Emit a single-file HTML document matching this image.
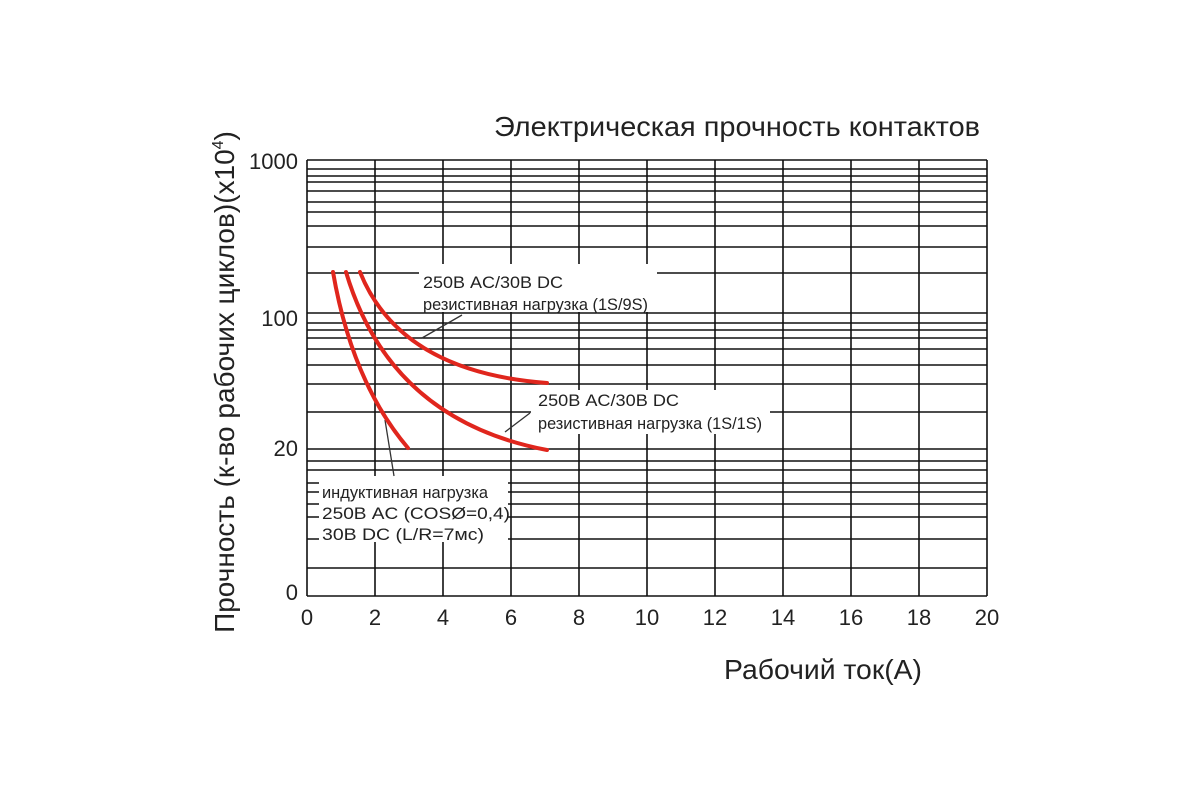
<!DOCTYPE html>
<html><head><meta charset="utf-8"><style>
body{margin:0;background:#fff}
svg text{font-family:"Liberation Sans","DejaVu Sans",sans-serif;fill:#222}
</style></head><body>
<svg width="1200" height="800" viewBox="0 0 1200 800" xmlns="http://www.w3.org/2000/svg">
<rect width="1200" height="800" fill="#fff"/>
<g stroke="#111" stroke-width="1.6">
<line x1="307" y1="160" x2="987" y2="160"/>
<line x1="307" y1="169" x2="987" y2="169"/>
<line x1="307" y1="176" x2="987" y2="176"/>
<line x1="307" y1="182" x2="987" y2="182"/>
<line x1="307" y1="191" x2="987" y2="191"/>
<line x1="307" y1="202" x2="987" y2="202"/>
<line x1="307" y1="212" x2="987" y2="212"/>
<line x1="307" y1="226" x2="987" y2="226"/>
<line x1="307" y1="247" x2="987" y2="247"/>
<line x1="307" y1="273" x2="987" y2="273"/>
<line x1="307" y1="313" x2="987" y2="313"/>
<line x1="307" y1="323" x2="987" y2="323"/>
<line x1="307" y1="330" x2="987" y2="330"/>
<line x1="307" y1="338" x2="987" y2="338"/>
<line x1="307" y1="349" x2="987" y2="349"/>
<line x1="307" y1="365" x2="987" y2="365"/>
<line x1="307" y1="384" x2="987" y2="384"/>
<line x1="307" y1="412" x2="987" y2="412"/>
<line x1="307" y1="449" x2="987" y2="449"/>
<line x1="307" y1="461" x2="987" y2="461"/>
<line x1="307" y1="470" x2="987" y2="470"/>
<line x1="307" y1="483" x2="987" y2="483"/>
<line x1="307" y1="492" x2="987" y2="492"/>
<line x1="307" y1="504" x2="987" y2="504"/>
<line x1="307" y1="517" x2="987" y2="517"/>
<line x1="307" y1="539" x2="987" y2="539"/>
<line x1="307" y1="568" x2="987" y2="568"/>
<line x1="307" y1="596" x2="987" y2="596"/>
<line x1="307" y1="160" x2="307" y2="596"/>
<line x1="375" y1="160" x2="375" y2="596"/>
<line x1="443" y1="160" x2="443" y2="596"/>
<line x1="511" y1="160" x2="511" y2="596"/>
<line x1="579" y1="160" x2="579" y2="596"/>
<line x1="647" y1="160" x2="647" y2="596"/>
<line x1="715" y1="160" x2="715" y2="596"/>
<line x1="783" y1="160" x2="783" y2="596"/>
<line x1="851" y1="160" x2="851" y2="596"/>
<line x1="919" y1="160" x2="919" y2="596"/>
<line x1="987" y1="160" x2="987" y2="596"/>
</g>
<rect x="419" y="264" width="238" height="48" fill="#fff"/>
<rect x="531" y="390" width="239" height="44" fill="#fff"/>
<rect x="319" y="476" width="189" height="66" fill="#fff"/>
<g stroke="#333" stroke-width="1.3">
<line x1="462" y1="315" x2="422" y2="338"/>
<line x1="530" y1="413" x2="505" y2="432"/>
<line x1="385" y1="420" x2="394" y2="476"/>
</g>
<g fill="none" stroke="#e0261d" stroke-width="4" stroke-linecap="round">
<path d="M333,272 Q352,382 408,448"/>
<path d="M346,272 Q390,420 547,450"/>
<path d="M360,272 Q400,372 547,383"/>
</g>
<g font-size="17">
<text x="423" y="288" textLength="140" lengthAdjust="spacingAndGlyphs">250В AC/30В DC</text>
<text x="423" y="310" textLength="225" lengthAdjust="spacingAndGlyphs">резистивная нагрузка (1S/9S)</text>
<text x="538" y="406" textLength="141" lengthAdjust="spacingAndGlyphs">250В AC/30В DC</text>
<text x="538" y="429" textLength="224" lengthAdjust="spacingAndGlyphs">резистивная нагрузка (1S/1S)</text>
<text x="322" y="498" textLength="166" lengthAdjust="spacingAndGlyphs">индуктивная нагрузка</text>
<text x="322" y="519" textLength="188" lengthAdjust="spacingAndGlyphs">250В AC (COSØ=0,4)</text>
<text x="322" y="540" textLength="162" lengthAdjust="spacingAndGlyphs">30В DC (L/R=7мс)</text>
</g>
<g font-size="22" text-anchor="end">
<text x="298" y="169">1000</text>
<text x="298" y="326">100</text>
<text x="298" y="456">20</text>
<text x="298" y="600">0</text>
</g>
<g font-size="22" text-anchor="middle">
<text x="307" y="625">0</text><text x="375" y="625">2</text><text x="443" y="625">4</text>
<text x="511" y="625">6</text><text x="579" y="625">8</text><text x="647" y="625">10</text>
<text x="715" y="625">12</text><text x="783" y="625">14</text><text x="851" y="625">16</text>
<text x="919" y="625">18</text><text x="987" y="625">20</text>
</g>
<text x="494" y="136" font-size="28" textLength="486" lengthAdjust="spacingAndGlyphs">Электрическая прочность контактов</text>
<text x="724" y="679" font-size="28" textLength="198" lengthAdjust="spacingAndGlyphs">Рабочий ток(А)</text>
<text transform="translate(234,382) rotate(-90)" font-size="28" text-anchor="middle">Прочность (к-во рабочих циклов)(x10<tspan font-size="16" dy="-11">4</tspan><tspan dy="11">)</tspan></text>
</svg>
</body></html>
